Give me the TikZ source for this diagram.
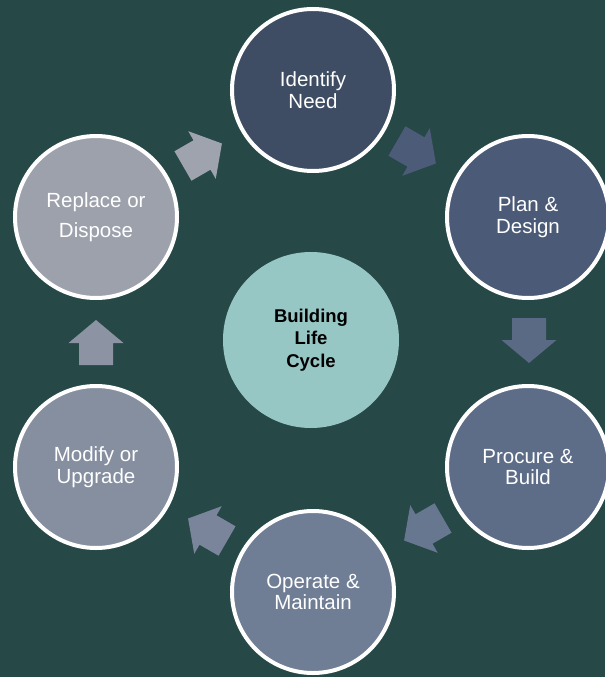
\documentclass[tikz,border=0pt]{standalone}
\usepackage{fontspec}
\setmainfont{Liberation Sans}
\begin{document}
\begin{tikzpicture}[x=1pt,y=-1pt,
  stage/.style={circle, draw=white, line width=4pt, minimum size=162pt, inner sep=0pt,
    text=white, align=center, font=\fontsize{20.5}{21.5}\selectfont},
  hub/.style={circle, fill=hubc, minimum size=176pt, inner sep=0pt, align=center,
    font=\fontsize{18.5}{22.5}\selectfont\bfseries},
  cyclearrow/.pic={\fill (-22,-17) -- (0,-17) -- (0,-27.5) -- (23,0) -- (0,27.5) -- (0,17) -- (-22,17) -- cycle;}
]
\definecolor{bg}{HTML}{264847}
\definecolor{hubc}{HTML}{97C7C5}
\definecolor{c1}{HTML}{3E4D64}
\definecolor{c2}{HTML}{4B5A76}
\definecolor{c3}{HTML}{5D6D88}
\definecolor{c4}{HTML}{6F7D95}
\definecolor{c5}{HTML}{868FA0}
\definecolor{c6}{HTML}{9DA1AC}
\definecolor{a2}{HTML}{4C5B77}
\definecolor{a3}{HTML}{5A6A85}
\definecolor{a4}{HTML}{67778F}
\definecolor{a5}{HTML}{7A849A}
\definecolor{a6}{HTML}{8C93A2}
\definecolor{a1}{HTML}{9EA3AE}
\useasboundingbox (0,0) rectangle (605,677);
\fill[bg] (0,0) rectangle (605,677);

\node[hub] (hub) at (311,340) {Building\\Life\\Cycle};

\node[stage, fill=c1] (identify) at (313,90) {Identify\\Need};
\node[stage, fill=c2] (plan) at (528,217) {Plan \&\\Design};
\node[stage, fill=c3] (procure) at (528,467) {Procure \&\\Build};
\node[stage, fill=c4] (operate) at (313,592) {Operate \&\\Maintain};
\node[stage, fill=c5] (modify) at (96,467) {Modify or\\Upgrade};
\node[stage, fill=c6, font=\fontsize{20.5}{30}\selectfont] (replace) at (96,217) {Replace or\\Dispose};

\pic[fill=a1, rotate=30] at (202,155) {cyclearrow};
\pic[fill=a2, rotate=-30] at (416,152) {cyclearrow};
\pic[fill=a3, rotate=-90] at (529,340) {cyclearrow};
\pic[fill=a4, rotate=-150] at (424,529) {cyclearrow};
\pic[fill=a5, rotate=150] at (208,530) {cyclearrow};
\pic[fill=a6, rotate=90] at (96,343) {cyclearrow};
\end{tikzpicture}
\end{document}
